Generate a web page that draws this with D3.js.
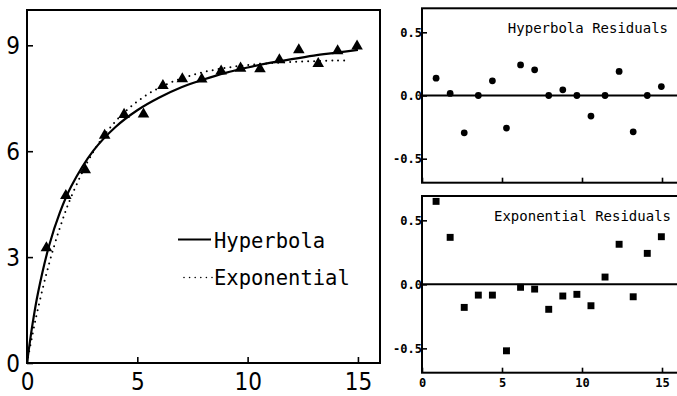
<!DOCTYPE html>
<html>
<head>
<meta charset="utf-8">
<script src="https://cdn.jsdelivr.net/npm/d3@7"></script>
<style>
  body { margin: 0; background: #fff; }
  svg { display: block; }
</style>
</head>
<body>
<div id="chart"></div>
<script>
// measured data (x positions shared by all three panels)
const xValues = [0.88, 1.76, 2.64, 3.52, 4.40, 5.28, 6.16, 7.04, 7.92, 8.80, 9.68, 10.56, 11.44, 12.32, 13.20, 14.08, 14.96];
const yValues = [3.23, 4.71, 5.44, 6.42, 7.01, 7.02, 7.83, 8.02, 8.01, 8.24, 8.32, 8.30, 8.56, 8.84, 8.45, 8.81, 8.95];

// fitted curves
const hyperbolaX = [0, 0.25, 0.5, 1, 1.5, 2, 3, 4, 5, 6, 7, 8, 9, 10, 11, 12, 13, 14, 15];
const hyperbolaY = [0, 1.10, 1.99, 3.32, 4.28, 5.00, 6.01, 6.68, 7.16, 7.52, 7.81, 8.03, 8.22, 8.37, 8.50, 8.61, 8.71, 8.79, 8.87];
const exponentialX = [0, 0.25, 0.5, 1, 1.5, 2, 3, 4, 5, 6, 7, 8, 9, 10, 11, 12, 13, 14, 14.6];
const exponentialY = [0, 0.81, 1.55, 2.81, 3.85, 4.70, 5.98, 6.84, 7.41, 7.80, 8.06, 8.24, 8.36, 8.44, 8.49, 8.53, 8.55, 8.57, 8.57];

// residuals
const hyperbolaResiduals = [0.137, 0.016, -0.295, 0.0, 0.116, -0.258, 0.242, 0.203, 0.0, 0.045, 0.0, -0.163, 0.0, 0.19, -0.287, 0.0, 0.071];
const exponentialResiduals = [0.648, 0.367, -0.18, -0.084, -0.084, -0.519, -0.023, -0.037, -0.195, -0.091, -0.078, -0.167, 0.057, 0.313, -0.097, 0.242, 0.372];

// ticks
const mainXTicks = [0, 5, 10, 15];
const mainYTicks = [0, 3, 6, 9];
const resXTicks = [0, 5, 10, 15];
const resYTicks = [-0.5, 0, 0.5];
const legendLabels = ['Hyperbola', 'Exponential'];
const residualTitles = ['Hyperbola Residuals', 'Exponential Residuals'];

const W = 677, H = 396;
const MONO = '"DejaVu Sans Mono", monospace';
const NARROW = '"Liberation Sans Narrow", "DejaVu Sans Condensed", sans-serif';

const svg = d3.select('#chart').append('svg')
  .attr('width', W)
  .attr('height', H);

// ---- main panel
const x = d3.scaleLinear().domain([0, 16]).range([27, 380]);
const y = d3.scaleLinear().domain([0, 10]).range([363, 10]);

const main = svg.append('g');

main.append('rect')
  .attr('x', x(0)).attr('y', y(10))
  .attr('width', x(16) - x(0)).attr('height', y(0) - y(10))
  .attr('fill', 'none').attr('stroke', '#000').attr('stroke-width', 2);

const styleAxis = (g, family, size, weight) => {
  g.select('.domain').remove();
  g.selectAll('line').attr('stroke', '#000').attr('stroke-width', 1.6);
  g.selectAll('text')
    .attr('fill', '#000')
    .style('font-family', family)
    .style('font-size', `${size}px`)
    .style('font-weight', weight);
};

main.append('g')
  .attr('transform', `translate(0,${y(0)})`)
  .call(d3.axisBottom(x).tickValues(mainXTicks).tickSize(-6).tickPadding(10).tickFormat(d3.format('d')))
  .call(g => styleAxis(g, NARROW, 24, 'normal'));

main.append('g')
  .attr('transform', `translate(${x(0)},0)`)
  .call(d3.axisLeft(y).tickValues(mainYTicks).tickSize(-6).tickPadding(7).tickFormat(d3.format('d')))
  .call(g => styleAxis(g, NARROW, 24, 'normal'))
  .call(g => g.selectAll('text').attr('dy', '0.36em'));

const curveLine = d3.line()
  .x(d => x(d[0])).y(d => y(d[1]))
  .curve(d3.curveCatmullRom);

main.append('path')
  .datum(d3.zip(exponentialX, exponentialY))
  .attr('d', curveLine)
  .attr('fill', 'none')
  .attr('stroke', '#000')
  .attr('stroke-width', 2)
  .attr('stroke-linecap', 'round')
  .attr('stroke-dasharray', '0,6');

main.append('path')
  .datum(d3.zip(hyperbolaX, hyperbolaY))
  .attr('d', curveLine)
  .attr('fill', 'none')
  .attr('stroke', '#000')
  .attr('stroke-width', 2.2);

main.selectAll('path.tri')
  .data(d3.zip(xValues, yValues))
  .join('path')
  .attr('class', 'tri')
  .attr('d', d3.symbol(d3.symbolTriangle, 58))
  .attr('transform', d => `translate(${x(d[0])},${y(d[1]) - 1})`)
  .attr('fill', '#000');

// legend
const legend = main.append('g');
legend.append('line')
  .attr('x1', 178).attr('x2', 211).attr('y1', 239.5).attr('y2', 239.5)
  .attr('stroke', '#000').attr('stroke-width', 2);
legend.append('line')
  .attr('x1', 184).attr('x2', 212).attr('y1', 277.5).attr('y2', 277.5)
  .attr('stroke', '#000').attr('stroke-width', 1.6)
  .attr('stroke-linecap', 'round').attr('stroke-dasharray', '0,5.6');
legend.selectAll('text')
  .data(legendLabels)
  .join('text')
  .attr('x', 214)
  .attr('y', (d, i) => 248 + i * 37)
  .style('font-family', MONO)
  .style('font-size', '20.5px')
  .text(d => d);

// ---- residual panels
const rx = d3.scaleLinear().domain([0, 16]).range([422, 678]);

const residualPanel = (top, bottom, values, title, titleEnd, marker, showXLabels) => {
  const ry = d3.scaleLinear().domain([-0.69, 0.69]).range([bottom, top]);
  const g = svg.append('g');

  g.append('rect')
    .attr('x', rx(0)).attr('y', top)
    .attr('width', rx(16) - rx(0)).attr('height', bottom - top)
    .attr('fill', 'none').attr('stroke', '#000').attr('stroke-width', 2);

  g.append('line')
    .attr('x1', rx(0)).attr('x2', rx(16))
    .attr('y1', ry(0)).attr('y2', ry(0))
    .attr('stroke', '#000').attr('stroke-width', 2);

  g.append('g')
    .attr('transform', `translate(0,${bottom})`)
    .call(d3.axisBottom(rx).tickValues(resXTicks).tickSize(-5).tickPadding(6)
      .tickFormat(showXLabels ? d3.format('d') : () => ''))
    .call(a => styleAxis(a, MONO, 12, 'bold'));

  g.append('g')
    .attr('transform', `translate(${rx(0)},0)`)
    .call(d3.axisLeft(ry).tickValues(resYTicks).tickSize(-5).tickPadding(0).tickFormat(d3.format('.1f')))
    .call(a => styleAxis(a, MONO, 12, 'bold'))
    .call(a => a.selectAll('text').text(d => d3.format('.1f')(d).replace('−', '-')));

  g.selectAll('path.pt')
    .data(d3.zip(xValues, values))
    .join('path')
    .attr('class', 'pt')
    .attr('d', d3.symbol(marker, marker === d3.symbolSquare ? 48 : 36))
    .attr('transform', d => `translate(${rx(d[0])},${ry(d[1])})`)
    .attr('fill', '#000');

  g.append('text')
    .attr('x', titleEnd)
    .attr('y', top + 25)
    .attr('text-anchor', 'end')
    .style('font-family', MONO)
    .style('font-size', '14px')
    .text(title);
};

residualPanel(8.3, 182.7, hyperbolaResiduals, residualTitles[0], 668, d3.symbolCircle, false);
residualPanel(196, 372.7, exponentialResiduals, residualTitles[1], 671, d3.symbolSquare, true);
</script>
</body>
</html>
